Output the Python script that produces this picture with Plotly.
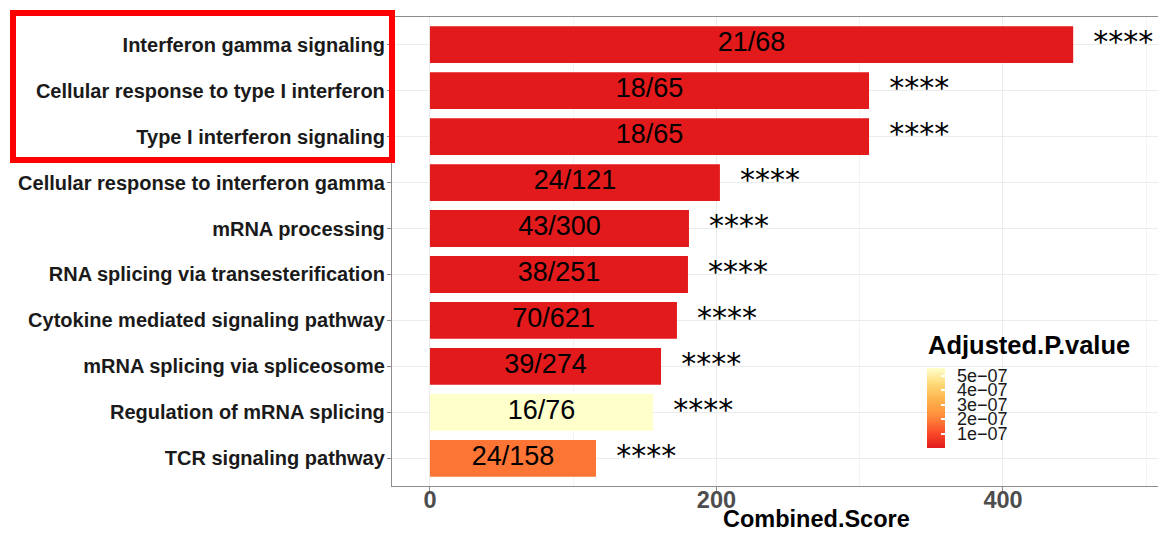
import plotly.graph_objects as go

# Enrichment results (top 10 terms by Combined.Score)
terms = [
    "Interferon gamma signaling",
    "Cellular response to type I interferon",
    "Type I interferon signaling",
    "Cellular response to interferon gamma",
    "mRNA processing",
    "RNA splicing via transesterification",
    "Cytokine mediated signaling pathway",
    "mRNA splicing via spliceosome",
    "Regulation of mRNA splicing",
    "TCR signaling pathway",
]
combined_score = [449.0, 306.5, 306.5, 202.4, 180.8, 180.1, 172.4, 161.3, 155.7, 115.9]
overlap = ["21/68", "18/65", "18/65", "24/121", "43/300", "38/251", "70/621", "39/274", "16/76", "24/158"]
adj_pvalue = [2.1e-12, 4.5e-11, 4.5e-11, 3.2e-10, 1.1e-10, 2.4e-10, 6.0e-11, 5.1e-10, 5.55e-07, 1.8e-07]
signif = ["****"] * 10

cb_ticks = [1e-07, 2e-07, 3e-07, 4e-07, 5e-07]
cb_ticktext = ["1e\u221207", "2e\u221207", "3e\u221207", "4e\u221207", "5e\u221207"]

FONT = "Liberation Sans"
W, H = 1158, 533
L, R, T, B = 392, 1158, 17, 486   # plotting panel in pixels

# colour bar geometry (pixels)
CB_LEFT, CB_W, CB_BOTTOM, CB_LEN = 927, 18, 448, 80


def px_x(p):
    return (p - L) / (R - L)


def px_y(p):
    return (B - p) / (B - T)


colorscale = [
    [0.0, "#E31A1C"],
    [0.2, "#FC4E2A"],
    [0.4, "#FD8D3C"],
    [0.6, "#FEB24C"],
    [0.8, "#FED976"],
    [1.0, "#FFFFCC"],
]
pmin, pmax = min(adj_pvalue), max(adj_pvalue)

fig = go.Figure()

fig.add_trace(go.Bar(
    x=combined_score,
    y=terms,
    orientation="h",
    width=0.8,
    marker=dict(
        color=adj_pvalue,
        colorscale=colorscale,
        cmin=pmin,
        cmax=pmax,
        line=dict(width=0),
        showscale=True,
        colorbar=dict(
            x=px_x(CB_LEFT), xanchor="left", xpad=0,
            y=px_y(CB_BOTTOM - CB_LEN / 2), yanchor="middle", ypad=0,
            len=CB_LEN, lenmode="pixels",
            thickness=CB_W, thicknessmode="pixels",
            outlinewidth=0, borderwidth=0,
            tickvals=cb_ticks,
            ticks="inside", ticklen=4, tickcolor="white", tickwidth=1.5,
            showticklabels=False,
        ),
    ),
    hoverinfo="skip",
))

# overlap labels centred in each bar
fig.add_trace(go.Scatter(
    x=[v / 2 for v in combined_score],
    y=terms,
    mode="text",
    text=overlap,
    textposition="middle center",
    textfont=dict(family=FONT, size=27, color="black"),
    hoverinfo="skip",
    showlegend=False,
))

# significance stars after each bar
fig.add_trace(go.Scatter(
    x=[v + 35 for v in combined_score],
    y=terms,
    mode="text",
    text=signif,
    textposition="middle center",
    textfont=dict(family="DejaVu Sans", size=30, color="black"),
    hoverinfo="skip",
    showlegend=False,
))

axis_grey = "#8C8C8C"
grid = "#EBEBEB"

annotations = [
    dict(
        text="Combined.Score", xref="paper", yref="paper",
        x=px_x(816), y=px_y(519), xanchor="center", yanchor="middle",
        showarrow=False,
        font=dict(family=FONT, size=23.5, color="black", weight="bold"),
    ),
    dict(
        text="Adjusted.P.value", xref="paper", yref="paper",
        x=px_x(926), y=px_y(345), xanchor="left", yanchor="middle",
        showarrow=False,
        font=dict(family=FONT, size=25.5, color="black", weight="bold"),
    ),
]
# colour bar tick labels, placed on the colour bar's value scale
for v, t in zip(cb_ticks, cb_ticktext):
    ypix = CB_BOTTOM - (v - pmin) / (pmax - pmin) * CB_LEN
    annotations.append(dict(
        text=t, xref="paper", yref="paper",
        x=px_x(955), y=px_y(ypix), xanchor="left", yanchor="middle",
        showarrow=False,
        font=dict(family=FONT, size=18, color="#1A1A1A"),
    ))

fig.update_layout(
    width=W, height=H,
    margin=dict(l=L, r=W - R, t=T, b=H - B),
    paper_bgcolor="white",
    plot_bgcolor="white",
    showlegend=False,
    bargap=0.2,
    xaxis=dict(
        range=[-26.5, 508.2],
        tickvals=[0, 200, 400],
        ticks="outside", ticklen=4, tickcolor=axis_grey, tickwidth=1.2,
        ticklabelstandoff=-11,
        tickfont=dict(family=FONT, size=23.5, color="#4D4D4D", weight="bold"),
        showgrid=True, gridcolor=grid, gridwidth=1.2,
        minor=dict(tickvals=[100, 300, 500], showgrid=True, gridcolor="#F3F3F3", gridwidth=0.8),
        zeroline=False,
        showline=True, linecolor=axis_grey, linewidth=1.3, mirror=True,
    ),
    yaxis=dict(
        type="category",
        categoryorder="array", categoryarray=terms,
        range=[9.6, -0.6],
        ticks="outside", ticklen=4, tickcolor=axis_grey, tickwidth=1.2,
        ticklabelstandoff=-2,
        tickfont=dict(family=FONT, size=20, color="#1A1A1A", weight="bold"),
        showgrid=True, gridcolor=grid, gridwidth=1.2,
        zeroline=False,
        showline=True, linecolor=axis_grey, linewidth=1.3,
    ),
    annotations=annotations,
    shapes=[
        dict(
            type="rect", xref="paper", yref="paper",
            x0=px_x(13), x1=px_x(392), y0=px_y(160), y1=px_y(13),
            line=dict(color="#FF0000", width=6),
            fillcolor="rgba(0,0,0,0)",
        ),
    ],
)

fig.write_html("out.html")
